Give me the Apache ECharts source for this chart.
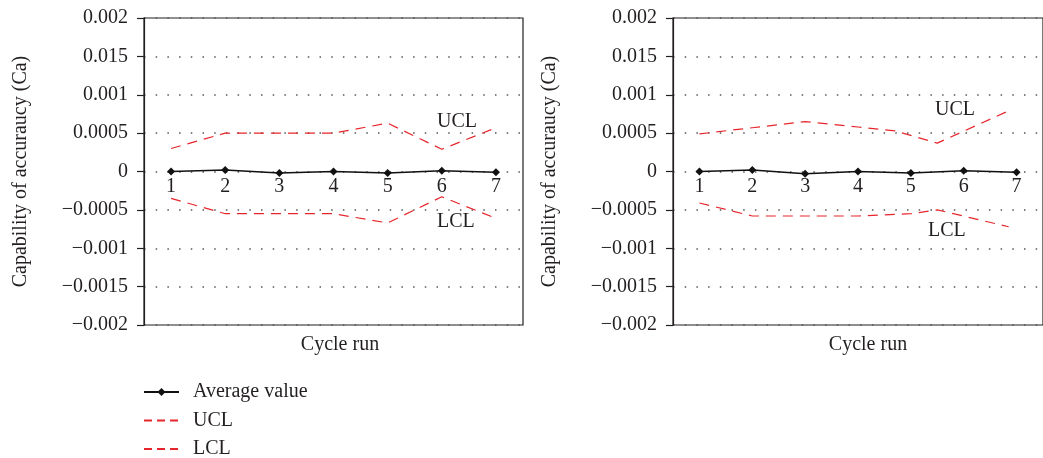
<!DOCTYPE html>
<html>
<head>
<meta charset="utf-8">
<script src="https://cdn.jsdelivr.net/npm/echarts@6/dist/echarts.min.js"></script>
<style>
  html, body { margin: 0; padding: 0; background: #fff; }
  #chart { width: 1043px; height: 458px; }
</style>
</head>
<body>
<div id="chart"></div>
<script>
// Cycle runs on the horizontal axis
const categories = ['1', '2', '3', '4', '5', '6', '7'];
// Tick labels of the Ca axis, bottom to top
const yTickLabels = ['−0.002', '−0.0015', '−0.001', '−0.0005', '0', '0.0005', '0.001', '0.015', '0.002'];

// Left panel
const avgLeft = [0, 0.00002, -0.00002, 0, -0.00002, 0.00001, -0.00001];
const uclLeft = [0.0003, 0.0005, 0.0005, 0.0005, 0.00063, 0.00029, 0.00057];
const lclLeft = [-0.00035, -0.00055, -0.00055, -0.00055, -0.00067, -0.00033, -0.00061];

// Right panel
const avgRight = [0, 0.00002, -0.00003, 0, -0.00002, 0.00001, -0.00001];
const uclRightRun = [1, 2, 3, 4, 4.7, 5.5, 6.85];
const uclRight = [0.00049, 0.00057, 0.00065, 0.00058, 0.00053, 0.00037, 0.00079];
const lclRightRun = [1, 2, 4, 5, 5.5, 6.85];
const lclRight = [-0.00041, -0.00058, -0.00058, -0.00055, -0.0005, -0.00072];

const FONT = '"Liberation Serif", "DejaVu Serif", serif';
const FS = 20;
const INK = '#231f20';
const RED = '#e6262c';

const GRID_TOP = 18;
const GRID_H = 307;

const pairs = (xs, ys) => xs.map((x, i) => [x, ys[i]]);

function yAxis(gridIndex) {
  return {
    type: 'value', gridIndex,
    min: -0.002, max: 0.002, interval: 0.0005,
    name: 'Capability of accuraucy (Ca)',
    nameLocation: 'middle', nameGap: 113,
    nameTextStyle: { fontFamily: FONT, fontSize: FS, color: INK },
    axisLine: { show: true, onZero: false, lineStyle: { color: INK, width: 1.2 } },
    axisTick: { show: true, length: 7, lineStyle: { color: INK, width: 1.2 } },
    axisLabel: {
      margin: 16, fontFamily: FONT, fontSize: FS, color: INK,
      formatter: v => yTickLabels[Math.round(v / 0.0005) + 4]
    },
    splitLine: { show: true, lineStyle: { color: '#555', width: 1.5, type: [1.5, 10.2] } }
  };
}

// Category axis lifted from the bottom edge up to the zero line (middle of the range)
function catAxis(gridIndex) {
  return {
    type: 'category', gridIndex, data: categories, boundaryGap: true,
    position: 'bottom', offset: -GRID_H / 2,
    axisLine: { show: false, onZero: false },
    axisTick: { show: false },
    axisLabel: { margin: 5, fontFamily: FONT, fontSize: FS, color: INK },
    splitLine: { show: false }
  };
}

const avgStyle = {
  type: 'line', name: 'Average value',
  symbol: 'diamond', symbolSize: 8,
  lineStyle: { color: '#111', width: 1.4 },
  itemStyle: { color: '#111' },
  z: 5
};
const limitStyle = (name) => ({
  type: 'line', name, symbol: 'none',
  lineStyle: { color: RED, width: 1.2, type: [10, 7] },
  itemStyle: { color: RED }
});

const textStyle = { fontFamily: FONT, fontSize: FS, fill: INK };
const label = (text, x, y, align) =>
  ({ type: 'text', style: Object.assign({ text, x, y, align: align || 'left', verticalAlign: 'middle' }, textStyle) });

const option = {
  animation: false,
  backgroundColor: '#fff',
  grid: [
    { left: 144, top: GRID_TOP, width: 379, height: GRID_H, show: true, borderColor: INK, borderWidth: 1.2 },
    { left: 673, top: GRID_TOP, width: 379, height: GRID_H, show: true, borderColor: INK, borderWidth: 1.2 }
  ],
  xAxis: [
    catAxis(0),
    catAxis(1),
    { type: 'value', gridIndex: 1, min: 0.5, max: 7.5, show: false, splitLine: { show: false } }
  ],
  yAxis: [yAxis(0), yAxis(1)],
  legend: {
    orient: 'vertical', left: 143, top: 382, height: 120, padding: 0,
    itemWidth: 35, itemHeight: 10, itemGap: 8.5,
    data: [
      { name: 'Average value' },
      { name: 'UCL', itemStyle: { opacity: 0 }, lineStyle: { type: [8, 5] } },
      { name: 'LCL', itemStyle: { opacity: 0 }, lineStyle: { type: [8, 5] } }
    ],
    textStyle: { fontFamily: FONT, fontSize: FS, color: INK, padding: [0, 0, 0, 9] }
  },
  graphic: [
    label('Cycle run', 340, 345, 'center'),
    label('Cycle run', 868, 345, 'center'),
    label('UCL', 437, 122),
    label('LCL', 437, 222),
    label('UCL', 935, 110),
    label('LCL', 928, 231)
  ],
  series: [
    Object.assign({}, avgStyle, { xAxisIndex: 0, yAxisIndex: 0, data: avgLeft }),
    Object.assign(limitStyle('UCL'), { xAxisIndex: 0, yAxisIndex: 0, data: uclLeft }),
    Object.assign(limitStyle('LCL'), { xAxisIndex: 0, yAxisIndex: 0, data: lclLeft }),
    Object.assign({}, avgStyle, { xAxisIndex: 1, yAxisIndex: 1, data: avgRight }),
    Object.assign(limitStyle('UCL'), { xAxisIndex: 2, yAxisIndex: 1, data: pairs(uclRightRun, uclRight) }),
    Object.assign(limitStyle('LCL'), { xAxisIndex: 2, yAxisIndex: 1, data: pairs(lclRightRun, lclRight) })
  ]
};

const chart = echarts.init(document.getElementById('chart'), null, { renderer: 'canvas' });
chart.setOption(option);
</script>
</body>
</html>
